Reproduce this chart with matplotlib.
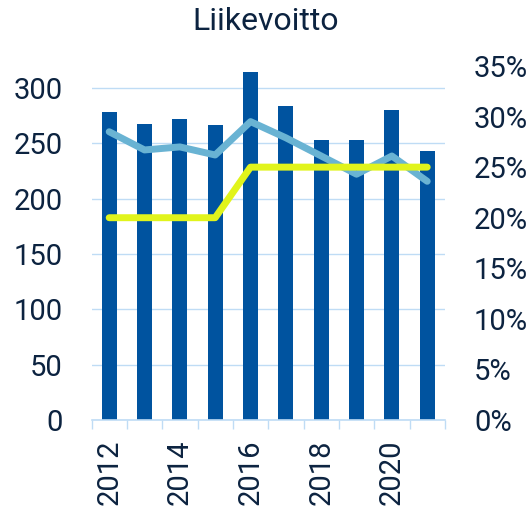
import numpy as np
import matplotlib.pyplot as plt
from matplotlib.ticker import FuncFormatter

plt.rcParams['font.family'] = ['Roboto', 'DejaVu Sans']

# data
years = [2012, 2013, 2014, 2015, 2016, 2017, 2018, 2019, 2020, 2021]
profit = [278, 268, 272, 267, 315, 284, 253, 253, 280, 243]
margin = [28.5, 26.7, 27.0, 26.2, 29.5, 27.9, 26.1, 24.3, 26.1, 23.6]
target = [20, 20, 20, 20, 25, 25, 25, 25, 25, 25]

text_col = '#0c2340'
grid_col = '#bfdcf5'

fig = plt.figure(figsize=(5.29, 5.14), dpi=100)
ax = fig.add_axes([0.173, 0.1829, 0.668, 0.6887])
x = np.arange(len(years))

ax.bar(x, profit, width=0.42, color='#00539f', zorder=2)
ax.set_xlim(-0.5, len(years) - 0.5)
ax.set_ylim(0, 320)
ax.set_yticks(np.arange(0, 301, 50))
ax.grid(axis='y', color=grid_col, linewidth=1, zorder=0)

# category ticks at boundaries, labels every other year
ax.set_xticks(x[::2])
ax.set_xticklabels([str(y) for y in years[::2]], rotation=90)
ax.set_xticks(np.arange(-0.5, len(years)), minor=True)
ax.tick_params(axis='x', which='major', length=0, pad=14, labelsize=21, labelcolor=text_col)
ax.tick_params(axis='x', which='minor', length=6.5, width=1, color=grid_col)
ax.tick_params(axis='y', length=0, pad=21, labelsize=21, labelcolor=text_col)
for s in ['top', 'left', 'right']:
    ax.spines[s].set_visible(False)
ax.spines['bottom'].set_color(grid_col)
ax.spines['bottom'].set_linewidth(1.2)

# percentage lines on right axis
ax2 = ax.twinx()
ax2.plot(x, margin, color='#69b3d3', linewidth=5, solid_capstyle='round', solid_joinstyle='round')
ax2.plot(x, target, color='#e1f41c', linewidth=5, solid_capstyle='round', solid_joinstyle='round')
ax2.set_ylim(0, 35)
ax2.set_yticks(np.arange(0, 36, 5))
ax2.yaxis.set_major_formatter(FuncFormatter(lambda v, p: f'{v:.0f}%'))
ax2.tick_params(axis='y', length=0, pad=21, labelsize=21, labelcolor=text_col)
for s in ['top', 'left', 'right', 'bottom']:
    ax2.spines[s].set_visible(False)

fig.text(0.503, 0.958, 'Liikevoitto', ha='center', va='center', fontsize=23, color=text_col)

fig.savefig('out.png', dpi=100)
